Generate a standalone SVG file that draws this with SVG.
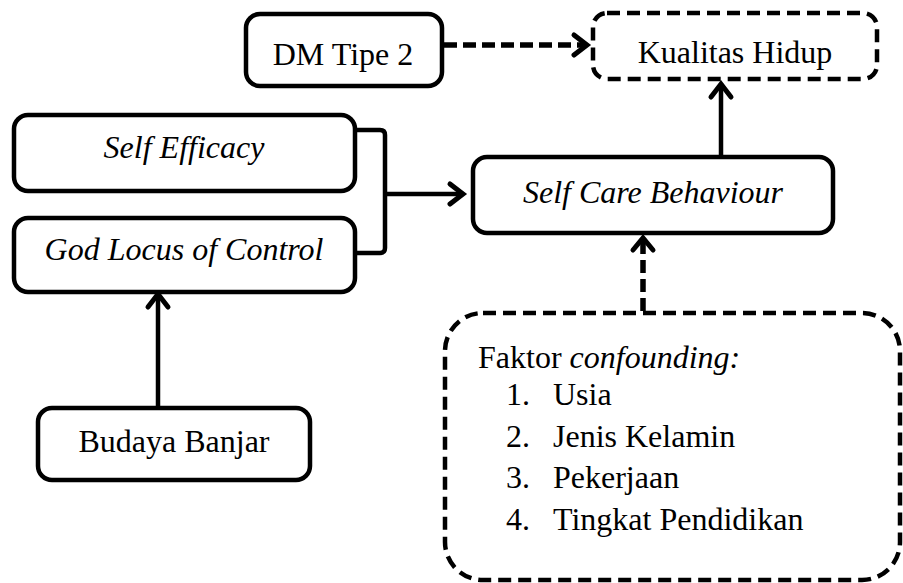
<svg xmlns="http://www.w3.org/2000/svg" width="903" height="583" viewBox="0 0 903 583">
<style>
.box{fill:#fff;stroke:#000;stroke-width:4.5}
.dbox{fill:#fff;stroke:#000;stroke-width:4.5;stroke-dasharray:13 7}
.ln{fill:none;stroke:#000;stroke-width:4.5}
.dl{fill:none;stroke:#000;stroke-width:5.5;stroke-dasharray:13 6}
.hd{fill:none;stroke:#000;stroke-width:5;stroke-linecap:round;stroke-linejoin:miter}
</style>
<rect width="903" height="583" fill="#fff"/>
<g id="connectors">
<line class="dl" x1="444" y1="45" x2="583" y2="45"/>
<polyline class="hd" points="574,35 587,45 574,55"/>
<line class="ln" x1="721" y1="156" x2="721" y2="86"/>
<polyline class="hd" points="711,97 721,84 731,97"/>
<path class="ln" d="M355,130 H380 Q385,130 385,135 V248 Q385,253 380,253 H355"/>
<line class="ln" x1="385" y1="194" x2="460" y2="194"/>
<polyline class="hd" points="450,184 463,194 450,204"/>
<line class="ln" x1="158" y1="408" x2="158" y2="298"/>
<polyline class="hd" points="148,307 158,294 168,307"/>
<line class="dl" x1="643" y1="311" x2="643" y2="242" stroke-width="4.5" stroke-dasharray="12 6"/>
<polyline class="hd" points="633,250 643,238 653,250"/>
</g>
<g id="dm">
<rect class="box" x="246" y="14" width="196" height="72" rx="14"/>
<text x="343" y="65" font-size="32" text-anchor="middle" style="font-family:'Liberation Serif',serif">DM Tipe 2</text>
</g>
<g id="kualitas">
<rect class="dbox" x="593" y="13" width="284" height="66" rx="14"/>
<text x="735" y="63" font-size="32" text-anchor="middle" style="font-family:'Liberation Serif',serif">Kualitas Hidup</text>
</g>
<g id="self-efficacy">
<rect class="box" x="14" y="115" width="341" height="76" rx="14"/>
<text x="184" y="158" font-size="32" text-anchor="middle" font-style="italic" style="font-family:'Liberation Serif',serif">Self Efficacy</text>
</g>
<g id="god-locus">
<rect class="box" x="14" y="218" width="341" height="74" rx="14"/>
<text x="184" y="260" font-size="32" text-anchor="middle" font-style="italic" style="font-family:'Liberation Serif',serif">God Locus of Control</text>
</g>
<g id="self-care">
<rect class="box" x="473" y="157" width="360" height="76" rx="14"/>
<text x="653" y="203" font-size="32" text-anchor="middle" font-style="italic" style="font-family:'Liberation Serif',serif">Self Care Behaviour</text>
</g>
<g id="budaya">
<rect class="box" x="38" y="408" width="272" height="72" rx="14"/>
<text x="174" y="452" font-size="32" text-anchor="middle" style="font-family:'Liberation Serif',serif">Budaya Banjar</text>
</g>
<g id="confounding">
<rect class="dbox" x="445" y="313" width="455" height="267" rx="38"/>
<text x="478" y="368" font-size="32" style="font-family:'Liberation Serif',serif">Faktor <tspan font-style="italic">confounding:</tspan></text>
<text x="506" y="405" font-size="32" style="font-family:'Liberation Serif',serif">1.</text>
<text x="553" y="405" font-size="32" style="font-family:'Liberation Serif',serif">Usia</text>
<text x="506" y="447" font-size="32" style="font-family:'Liberation Serif',serif">2.</text>
<text x="553" y="447" font-size="32" style="font-family:'Liberation Serif',serif">Jenis Kelamin</text>
<text x="506" y="488" font-size="32" style="font-family:'Liberation Serif',serif">3.</text>
<text x="553" y="488" font-size="32" style="font-family:'Liberation Serif',serif">Pekerjaan</text>
<text x="506" y="530" font-size="32" style="font-family:'Liberation Serif',serif">4.</text>
<text x="553" y="530" font-size="32" style="font-family:'Liberation Serif',serif">Tingkat Pendidikan</text>
</g>
</svg>
